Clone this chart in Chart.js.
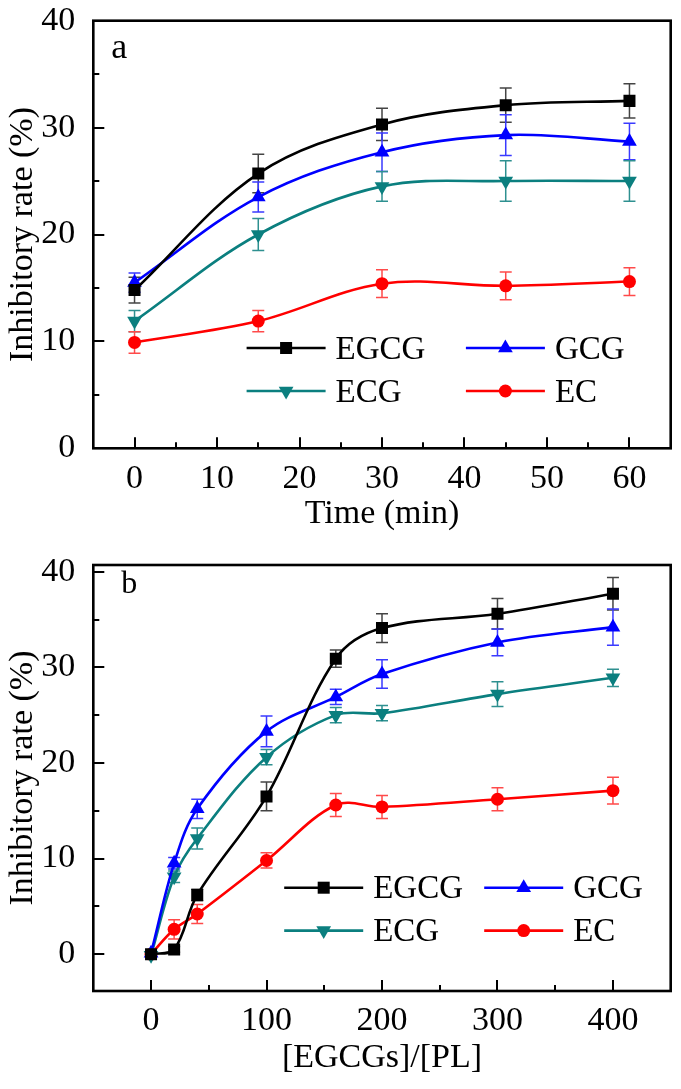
<!DOCTYPE html>
<html>
<head>
<meta charset="utf-8">
<script src="https://cdn.jsdelivr.net/npm/chart.js@4.4.0/dist/chart.umd.min.js"></script>
<style>
  body { margin: 0; background: #fff; }
  canvas { display: block; }
</style>
</head>
<body>
<canvas id="chartA" width="681" height="545"></canvas>
<canvas id="chartB" width="681" height="544"></canvas>
<script>
'use strict';

// panel a: inhibitory rate vs time
const timeMin = [0, 15, 30, 45, 60];
const egcgTime = [14.8, 25.7, 30.3, 32.1, 32.5];
const egcgTimeErr = [1.2, 1.8, 1.5, 1.6, 1.6];
const gcgTime = [15.5, 23.5, 27.7, 29.3, 28.7];
const gcgTimeErr = [0.9, 1.4, 1.8, 1.9, 1.7];
const ecgTime = [11.9, 20.0, 24.5, 25.0, 25.0];
const ecgTimeErr = [1.0, 1.5, 1.4, 1.9, 1.9];
const ecTime = [9.9, 11.9, 15.4, 15.2, 15.6];
const ecTimeErr = [1.0, 1.0, 1.3, 1.3, 1.3];

// panel b: inhibitory rate vs [EGCGs]/[PL]
const ratio = [0, 20, 40, 100, 160, 200, 300, 400];
const egcgRatio = [0, 0.5, 6.2, 16.5, 30.9, 34.1, 35.6, 37.7];
const egcgRatioErr = [0.2, 0.3, 0.6, 1.5, 0.9, 1.5, 1.6, 1.7];
const gcgRatio = [0.1, 9.5, 15.2, 23.3, 26.9, 29.3, 32.6, 34.2];
const gcgRatioErr = [0.2, 0.6, 1.0, 1.6, 0.8, 1.5, 1.4, 1.9];
const ecgRatio = [-0.1, 8.1, 12.1, 20.6, 25.0, 25.2, 27.2, 28.9];
const ecgRatioErr = [0.2, 0.6, 1.1, 0.8, 0.8, 0.8, 1.3, 0.9];
const ecRatio = [0, 2.6, 4.2, 9.8, 15.6, 15.4, 16.2, 17.1];
const ecRatioErr = [0.2, 1.0, 1.0, 0.8, 1.2, 1.2, 1.2, 1.4];

// tick values
const timeTicks = [0, 5, 10, 15, 20, 25, 30, 35, 40, 45, 50, 55, 60];
const ratioTicks = [0, 50, 100, 150, 200, 250, 300, 350, 400];
const rateTicks = [0, 5, 10, 15, 20, 25, 30, 35, 40];

const styles = {
    EGCG: { color: '#000000', err: '#444444', point: 'rect', radius: 8.5, rot: 0 },
    GCG: { color: '#0000ff', err: '#3a3aff', point: 'triangle', radius: 8.5, rot: 0 },
    ECG: { color: '#0b7f7f', err: '#2e9090', point: 'triangle', radius: 8.5, rot: 180 },
    EC: { color: '#ff0000', err: '#ff4a4a', point: 'circle', radius: 6.5, rot: 0 }
};

const FONT = "'Liberation Serif', 'Times New Roman', serif";

// error bars drawn under the markers
const errorBars = {
    id: 'errorBars',
    beforeDatasetsDraw(chart) {
        const ctx = chart.ctx;
        const xs = chart.scales.x, ys = chart.scales.y;
        ctx.save();
        ctx.lineWidth = 1.5;
        chart.data.datasets.forEach(ds => {
            ctx.strokeStyle = ds.errColor;
            ds.data.forEach((p, i) => {
                const e = ds.errors[i];
                const x = xs.getPixelForValue(p.x);
                const y1 = ys.getPixelForValue(p.y + e);
                const y2 = ys.getPixelForValue(p.y - e);
                ctx.beginPath();
                ctx.moveTo(x, y1); ctx.lineTo(x, y2);
                ctx.moveTo(x - 6, y1); ctx.lineTo(x + 6, y1);
                ctx.moveTo(x - 6, y2); ctx.lineTo(x + 6, y2);
                ctx.stroke();
            });
        });
        ctx.restore();
    }
};

// box frame, inward ticks, panel letter and legend
const frameTicks = {
    id: 'frameTicks',
    afterDraw(chart, args, opts) {
        const ctx = chart.ctx;
        const a = chart.chartArea;
        const xs = chart.scales.x, ys = chart.scales.y;
        ctx.save();
        ctx.strokeStyle = '#000';
        ctx.lineWidth = 2;
        ctx.beginPath();
        xs.ticks.forEach(t => {
            const x = Math.round(xs.getPixelForValue(t.value));
            const len = t.value % opts.xMajor === 0 ? 11 : 6;
            ctx.moveTo(x, a.bottom); ctx.lineTo(x, a.bottom - len);
        });
        ys.ticks.forEach(t => {
            const y = Math.round(ys.getPixelForValue(t.value));
            const len = t.value % opts.yMajor === 0 ? 11 : 6;
            ctx.moveTo(a.left, y); ctx.lineTo(a.left + len, y);
        });
        ctx.stroke();
        ctx.lineWidth = 2.6;
        ctx.strokeRect(a.left, a.top, a.right - a.left, a.bottom - a.top);

        ctx.fillStyle = '#000';
        ctx.font = opts.letterSize + 'px ' + FONT;
        ctx.textBaseline = 'alphabetic';
        ctx.fillText(opts.letter, a.left + opts.letterX, a.top + opts.letterY);

        // legend, two columns by two rows
        const lg = opts.legend;
        ctx.font = '33px ' + FONT;
        ctx.textBaseline = 'middle';
        chart.data.datasets.forEach((ds, i) => {
            const lx = a.left + (i % 2 === 0 ? lg.col1 : lg.col2);
            const ly = a.top + (i < 2 ? lg.row1 : lg.row2);
            ctx.strokeStyle = ds.borderColor;
            ctx.lineWidth = 2.6;
            ctx.beginPath();
            ctx.moveTo(lx, ly); ctx.lineTo(lx + lg.len, ly);
            ctx.stroke();
            ctx.fillStyle = ds.borderColor;
            Chart.helpers.drawPoint(ctx, {
                pointStyle: ds.pointStyle, rotation: ds.pointRotation,
                radius: ds.pointRadius, borderWidth: 0
            }, lx + lg.len / 2, ly);
            ctx.fillStyle = '#000';
            ctx.fillText(ds.label, lx + lg.len + 10, ly + 2);
        });
        ctx.restore();
    }
};

function makeDataset(name, xs, ys, errs) {
    const s = styles[name];
    return {
        label: name,
        data: xs.map((x, i) => ({ x: x, y: ys[i] })),
        errors: errs,
        errColor: s.err,
        borderColor: s.color,
        backgroundColor: s.color,
        borderWidth: 2.6,
        pointStyle: s.point,
        pointRotation: s.rot,
        pointRadius: s.radius,
        pointBorderWidth: 0,
        tension: 0.35,
        fill: false
    };
}

function makeChart(id, datasets, cfg) {
    const ctx = document.getElementById(id).getContext('2d');
    return new Chart(ctx, {
        type: 'line',
        data: { datasets: datasets },
        plugins: [errorBars, frameTicks],
        options: {
            responsive: false,
            animation: false,
            layout: { padding: { top: cfg.top, right: 10.3, left: 0, bottom: 0 } },
            plugins: {
                legend: { display: false },
                tooltip: { enabled: false },
                frameTicks: cfg.frame
            },
            scales: {
                x: {
                    type: 'linear',
                    min: cfg.xMin, max: cfg.xMax,
                    afterBuildTicks: sc => { sc.ticks = cfg.xTicks.map(v => ({ value: v })); },
                    afterFit: sc => {
                        sc.height = cfg.xHeight;
                        sc.paddingLeft = 0; sc.paddingRight = 0;
                    },
                    grid: { display: false },
                    border: { display: false },
                    ticks: {
                        autoSkip: false, maxRotation: 0, padding: 2, color: '#000',
                        font: { family: FONT, size: 34 },
                        callback: v => v % cfg.frame.xMajor === 0 ? v : ''
                    },
                    title: {
                        display: true, text: cfg.xTitle, color: '#000',
                        font: { family: FONT, size: 34 },
                        padding: { top: 0, bottom: 11 }
                    }
                },
                y: {
                    min: cfg.yMin, max: cfg.yMax,
                    afterBuildTicks: sc => { sc.ticks = rateTicks.map(v => ({ value: v })); },
                    afterFit: sc => {
                        sc.width = 93.3;
                        sc.paddingTop = 0; sc.paddingBottom = 0;
                    },
                    grid: { display: false },
                    border: { display: false },
                    ticks: {
                        autoSkip: false, padding: 10, color: '#000',
                        font: { family: FONT, size: 34 },
                        callback: v => v % cfg.frame.yMajor === 0 ? v : ''
                    },
                    title: {
                        display: true, text: 'Inhibitory rate (%)', color: '#000',
                        font: { family: FONT, size: 34 },
                        padding: { top: 3, bottom: 0 }
                    }
                }
            }
        }
    });
}

const dataA = [
    makeDataset('EGCG', timeMin, egcgTime, egcgTimeErr),
    makeDataset('GCG', timeMin, gcgTime, gcgTimeErr),
    makeDataset('ECG', timeMin, ecgTime, ecgTimeErr),
    makeDataset('EC', timeMin, ecTime, ecTimeErr)
];
const dataB = [
    makeDataset('EGCG', ratio, egcgRatio, egcgRatioErr),
    makeDataset('GCG', ratio, gcgRatio, gcgRatioErr),
    makeDataset('ECG', ratio, ecgRatio, ecgRatioErr),
    makeDataset('EC', ratio, ecRatio, ecRatioErr)
];

makeChart('chartA', dataA, {
    top: 20.7, xHeight: 96.7,
    xMin: -5, xMax: 65, xTicks: timeTicks, xTitle: 'Time (min)',
    yMin: 0, yMax: 40,
    frame: {
        xMajor: 10, yMajor: 10, letter: 'a', letterSize: 36, letterX: 18, letterY: 37,
        legend: { col1: 153.3, col2: 372.6, row1: 327.3, row2: 370.3, len: 79 }
    }
});

makeChart('chartB', dataB, {
    top: 20, xHeight: 98,
    xMin: -50, xMax: 450, xTicks: ratioTicks, xTitle: '[EGCGs]/[PL]',
    yMin: -3.85, yMax: 40.7,
    frame: {
        xMajor: 100, yMajor: 10, letter: 'b', letterSize: 32, letterX: 28, letterY: 28,
        legend: { col1: 190.9, col2: 390.9, row1: 322.7, row2: 365.6, len: 79 }
    }
});
</script>
</body>
</html>
